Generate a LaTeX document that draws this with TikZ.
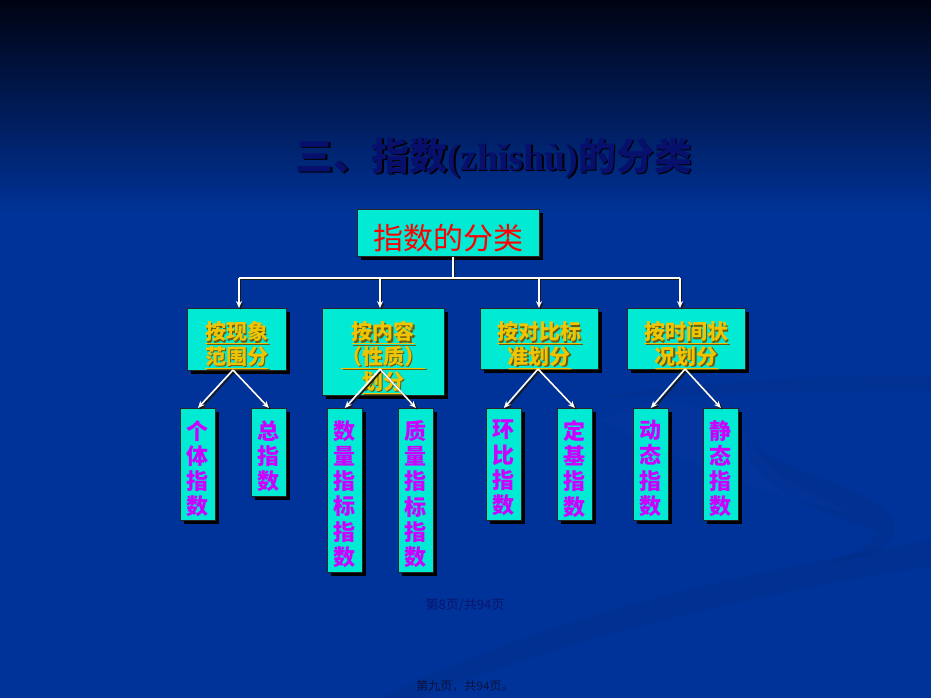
\documentclass[tikz,border=0pt]{standalone}
\usepackage{fontspec}
\newfontfamily\cjk{Noto Sans CJK SC}
\newfontfamily\tms{Liberation Serif}
\usetikzlibrary{arrows.meta,shadows}
\definecolor{bgtop}{HTML}{000312}
\definecolor{bgmain}{HTML}{003399}
\definecolor{bgdark}{HTML}{002A80}
\definecolor{bglight}{HTML}{0A3CA6}
\definecolor{boxc}{HTML}{00EAD4}
\definecolor{goldc}{HTML}{F0C400}
\definecolor{goldsh}{HTML}{6A5A10}
\definecolor{magc}{HTML}{CC00FF}
\definecolor{titlec}{HTML}{08106E}
\definecolor{foot1}{HTML}{0A146E}
\definecolor{foot2}{HTML}{0A1240}
\newcommand\myconns[2]{%
  \draw[#1] (root.south -| j) -- (j);
  \draw[#1] (jl) -- (jr);
  \draw[#2] (jl) -- (jl |- a.north);
  \draw[#2] (jb) -- (jb |- b.north);
  \draw[#2] (jc) -- (jc |- c.north);
  \draw[#2] (jr) -- (jr |- d.north);
  \draw[#2] (pa) -- (a1.north);
  \draw[#2] (pa) -- (a2.north);
  \draw[#2] (pb) -- (b1.north);
  \draw[#2] (pb) -- (b2.north);
  \draw[#2] (pc) -- (c1.north);
  \draw[#2] (pc) -- (c2.north);
  \draw[#2] (pd) -- (d1.north);
  \draw[#2] (pd) -- (d2.north);
}
\begin{document}
\begin{tikzpicture}[x=1pt,y=-1pt,
  box/.style={draw=black!85, line width=0.8pt, fill=boxc, inner sep=0pt, anchor=north west,
    general shadow={fill=black, shadow xshift=4pt, shadow yshift=-4pt}},
  titletxt/.style={font=\cjk\bfseries\fontsize{38}{40}\selectfont, text=titlec, inner sep=0pt},
  roottxt/.style={font=\cjk\fontsize{30}{32}\selectfont, text=red, inner sep=0pt},
  goldtxt/.style={font=\cjk\bfseries\fontsize{21}{24.7}\selectfont, text=goldc, align=center, inner sep=0pt, anchor=north},
  magtxt/.style={font=\cjk\bfseries\fontsize{22}{25.3}\selectfont, text=magc, align=center, inner sep=0pt, anchor=north},
  wline/.style={draw=white, line width=1.6pt},
  warrow/.style={draw=white, line width=1.6pt, -{Stealth[length=7pt,width=6pt]}},
  kline/.style={draw=black!90, line width=1.6pt},
  karrow/.style={draw=black!90, line width=1.6pt, -{Stealth[length=7pt,width=6pt]}}
]
\useasboundingbox (0,0) rectangle (931,698);
% background
\fill[bgmain] (0,0) rectangle (931,698);
\shade[top color=bgtop, bottom color=bgmain] (0,0) rectangle (931,215);
% faint swooshes
\fill[bgdark, opacity=0.3] (380,698) .. controls (560,610) and (760,570) .. (931,540) -- (931,566) .. controls (760,592) and (560,640) .. (420,698) -- cycle;
\fill[bgdark, opacity=0.22] (590,398) .. controls (700,380) and (830,375) .. (931,376) -- (931,390) .. controls (830,390) and (700,395) .. (590,398) -- cycle;
\fill[bgdark, opacity=0.28] (748,432) .. controls (735,480) and (800,505) .. (878,532) .. controls (870,548) and (850,556) .. (826,562) .. controls (880,560) and (905,540) .. (890,515) .. controls (860,480) and (760,470) .. (748,432) -- cycle;
\fill[bglight, opacity=0.2] (600,420) .. controls (650,395) and (720,400) .. (748,432) .. controls (760,470) and (800,490) .. (850,512) .. controls (780,500) and (700,470) .. (600,420) -- cycle;
% title
\node[titletxt, text=black] (titlesh) at (495.5,159.5) {三、指数{\tms\bfseries (zhǐshù)}的分类};
\node[titletxt] (title) at (494,158) {三、指数{\tms\bfseries (zhǐshù)}的分类};
% boxes
\node[box, minimum width=182pt, minimum height=47pt] (root) at (357,209) {};
\node[box, minimum width=99pt, minimum height=62pt] (a) at (187,308) {};
\node[box, minimum width=122pt, minimum height=87pt] (b) at (322,308) {};
\node[box, minimum width=118pt, minimum height=61pt] (c) at (480,308) {};
\node[box, minimum width=118pt, minimum height=61pt] (d) at (627,308) {};
\node[box, minimum width=35pt, minimum height=112pt] (a1) at (180,408) {};
\node[box, minimum width=35pt, minimum height=88pt] (a2) at (251,408) {};
\node[box, minimum width=35pt, minimum height=164pt] (b1) at (327,408) {};
\node[box, minimum width=35pt, minimum height=164pt] (b2) at (398,408) {};
\node[box, minimum width=35pt, minimum height=112pt] (c1) at (486,408) {};
\node[box, minimum width=35pt, minimum height=112pt] (c2) at (557,408) {};
\node[box, minimum width=35pt, minimum height=112pt] (d1) at (633,408) {};
\node[box, minimum width=35pt, minimum height=112pt] (d2) at (703,408) {};
% texts
\node[roottxt] (troot) at (448,238) {指数的分类};
\foreach \n/\t in {a/{\underline{按现象}\\\underline{范围分}},
                   b/{\underline{按内容}\\\underline{（性质）}\\\underline{划分}},
                   c/{\underline{按对比标}\\\underline{准划分}},
                   d/{\underline{按时间状}\\\underline{况划分}}}{
  \node[goldtxt, text=goldsh, xshift=1.3pt, yshift=-14.8pt] (s\n) at (\n.north) {\t};
  \node[goldtxt, yshift=-13.5pt] (t\n) at (\n.north) {\t};
}
\foreach \n/\t in {a1/{个\\体\\指\\数}, a2/{总\\指\\数},
                   b1/{数\\量\\指\\标\\指\\数}, b2/{质\\量\\指\\标\\指\\数},
                   c1/{环\\比\\指\\数}, c2/{定\\基\\指\\数},
                   d1/{动\\态\\指\\数}, d2/{静\\态\\指\\数}}{
  \node[magtxt, yshift=-12pt] (t\n) at (\n.north) {\t};
}
% connector points
\coordinate (j) at (453,278);
\coordinate (jl) at (239,278);
\coordinate (jb) at (380,278);
\coordinate (jc) at (539,278);
\coordinate (jr) at (680,278);
\coordinate (pa) at (233,370);
\coordinate (pb) at (380,369);
\coordinate (pc) at (538,369);
\coordinate (pd) at (685,369);
\begin{scope}[transform canvas={shift={(1.6pt,-1.6pt)}}]
  \myconns{kline}{karrow}
\end{scope}
\myconns{wline}{warrow}
% footers
\node[font=\cjk\fontsize{13}{15}\selectfont, text=foot1, inner sep=0pt] (f1) at (465,605) {第8页/共94页};
\node[font=\cjk\fontsize{12}{14}\selectfont, text=foot2, inner sep=0pt] (f2) at (465,686) {第九页，共94页。};
\end{tikzpicture}
\end{document}
